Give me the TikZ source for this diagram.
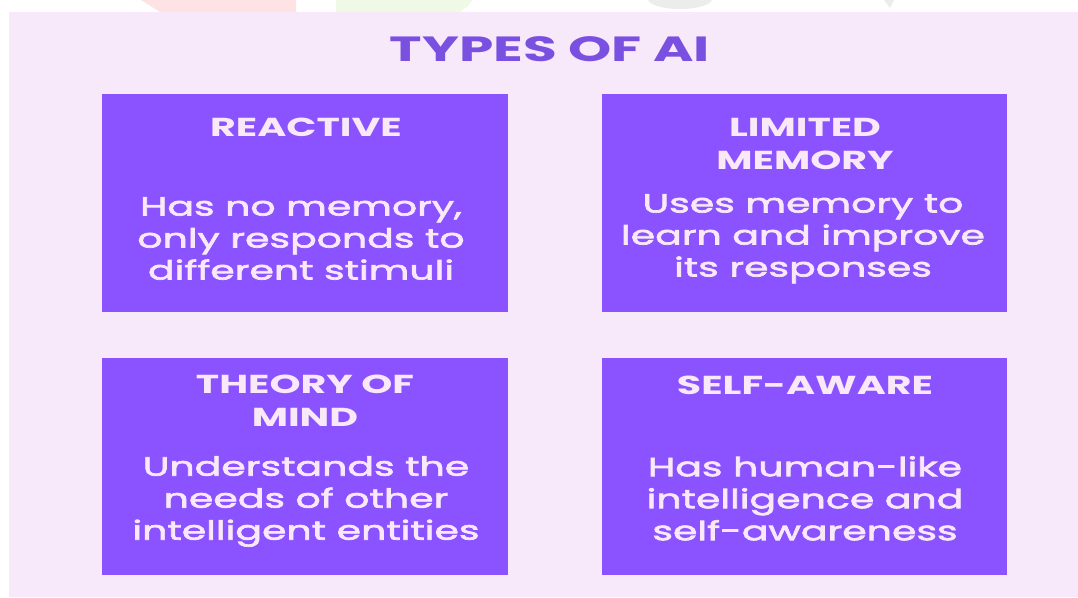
\documentclass[tikz,border=0pt]{standalone}
\usepackage{fontspec}
\setmainfont{Poppins}[FakeStretch=1.52]
\newfontfamily\bodyfont{Poppins}[FakeStretch=1.5, FakeBold=2.6]
\newfontfamily\titlefont{Poppins}[FakeStretch=1.57]
\definecolor{bgpink}{RGB}{247,233,250}
\definecolor{boxpurple}{RGB}{139,82,255}
\definecolor{txtpink}{RGB}{248,232,248}
\definecolor{titlepurple}{RGB}{122,80,224}
\definecolor{wmred}{RGB}{255,226,228}
\definecolor{wmgreen}{RGB}{240,249,230}
\definecolor{wmgray}{RGB}{236,236,236}
\tikzset{
  card/.style={fill=boxpurple, draw=none},
  headtxt/.style={text=txtpink, font=\bfseries\fontsize{26}{33}\selectfont, align=center, inner sep=0pt, anchor=north},
  bodytxt/.style={text=txtpink, font=\bodyfont\fontsize{26.3}{32}\selectfont, align=center, inner sep=0pt, anchor=north},
  titletxt/.style={text=titlepurple, font=\titlefont\bfseries\fontsize{35}{40}\selectfont, inner sep=0pt, anchor=north}
}
\begin{document}
\begin{tikzpicture}[x=1pt,y=-1pt]
\useasboundingbox (0,0) rectangle (1078,597);
\fill[white] (0,0) rectangle (1078,597);
% faint watermark fragments in the top strip
\fill[wmred] (141,0) -- (296,0) -- (296,12) -- (160,12) -- cycle;
\fill[wmgreen] (336,0) -- (472,0) -- (468,6) -- (460,12) -- (336,12) -- cycle;
\fill[wmgray] (648,0) .. controls (654,12) and (706,12) .. (712,0) -- cycle;
\fill[wmgray] (884,0) -- (894,0) -- (890,8) -- cycle;
% background panel
\fill[bgpink] (9,12) rectangle (1078,597);
% title
\node[titletxt] (title) at (550,36) {TYPES OF AI};
% cards
\path[card] (102,94) rectangle (508,312) node[pos=0.5] (c1) {};
\path[card] (602,94) rectangle (1007,312) node[pos=0.5] (c2) {};
\path[card] (102,358) rectangle (508,575) node[pos=0.5] (c3) {};
\path[card] (602,358) rectangle (1007,575) node[pos=0.5] (c4) {};
% card texts
\node[headtxt] (h1) at (306,118) {REACTIVE};
\node[bodytxt] (b1) at (301,197) {Has no memory,\\only responds to\\different stimuli};
\node[headtxt] (h2) at (805,118) {LIMITED\\MEMORY};
\node[bodytxt] (b2) at (803,194) {Uses memory to\\learn and improve\\its responses};
\node[headtxt] (h3) at (305,375) {THEORY OF\\MIND};
\node[bodytxt] (b3) at (306,456) {Understands the\\needs of other\\intelligent entities};
\node[headtxt] (h4) at (805,376) {SELF-AWARE};
\node[bodytxt] (b4) at (805,456) {Has human-like\\intelligence and\\self-awareness};
\end{tikzpicture}
\end{document}
